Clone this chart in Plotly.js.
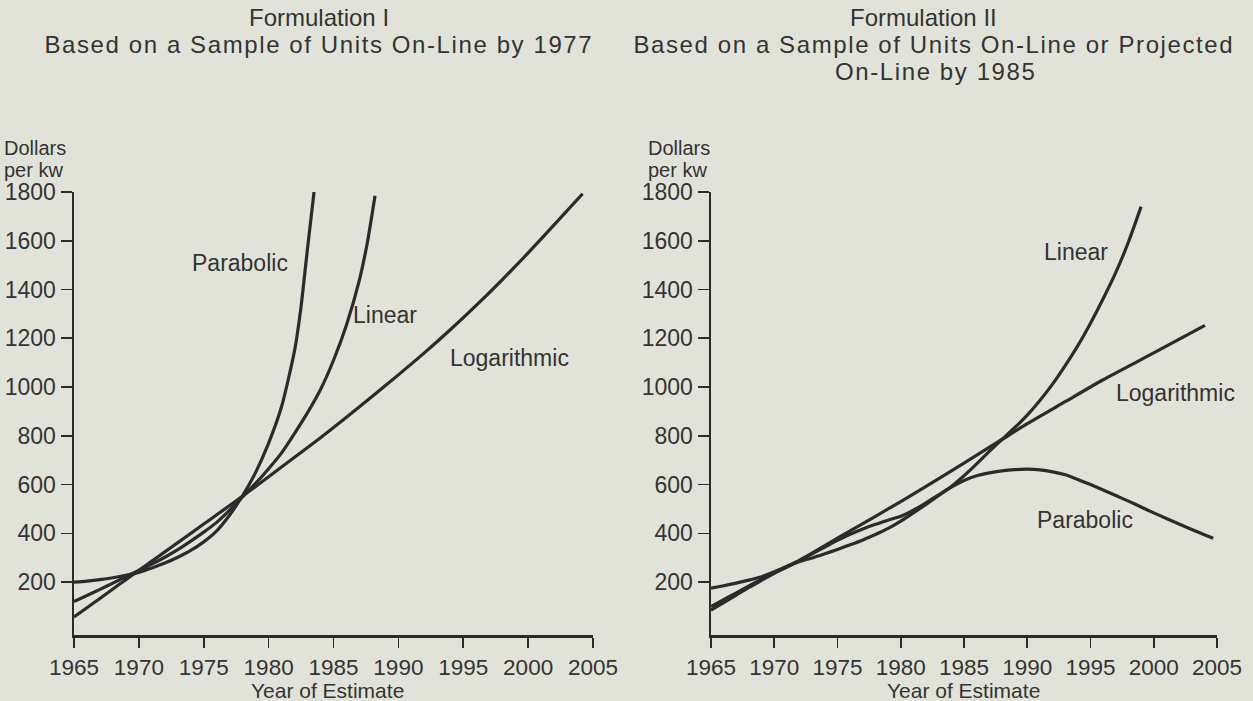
<!DOCTYPE html>
<html>
<head>
<meta charset="utf-8">
<script src="https://cdn.plot.ly/plotly-3.0.1.min.js"></script>
<style>html,body{margin:0;padding:0;background:#e2e3d8;}</style>
</head>
<body>
<div id="chart" style="width:1253px;height:701px;"></div>
<script>
// ---------- Data: Formulation I ----------
const parabolicIYears = [1965,1966,1967,1968,1969,1970,1971,1972,1973,1974,1975,1976,1977,1978,1979,1980,1981,1982,1982.5,1983,1983.5];
const parabolicIValues = [200,204,210,218,228,240,258,278,302,330,365,410,475,555,650,770,920,1150,1330,1570,1800];

const linearIYears = [1965,1966,1967,1968,1969,1970,1971,1972,1973,1974,1975,1976,1977,1978,1979,1980,1981,1982,1983,1984,1985,1986,1987,1987.6,1988.2];
const linearIValues = [120,145,170,196,222,248,274,302,333,368,405,445,495,550,605,665,730,810,895,990,1110,1255,1440,1590,1785];

const logIYears = [1965,1966,1967,1968,1969,1970,1971,1972,1973,1974,1975,1976,1977,1978,1979,1980,1982,1984,1986,1988,1990,1992,1994,1996,1998,2000,2002,2004.2];
const logIValues = [57,95,133,172,210,248,286,324,362,400,438,476,514,553,592,632,712,792,876,962,1050,1140,1235,1335,1440,1550,1665,1793];

// ---------- Data: Formulation II ----------
const linearIIYears = [1965,1966,1967,1968,1969,1970,1971,1972,1973,1974,1975,1976,1977,1978,1979,1980,1981,1982,1983,1984,1985,1986,1987,1988,1989,1990,1991,1992,1993,1994,1995,1996,1997,1998,1999];
const linearIIValues = [100,128,156,184,212,238,262,284,299,316,334,353,373,395,420,450,484,519,555,592,636,685,736,785,833,885,945,1012,1088,1170,1262,1362,1470,1595,1740];

const logIIYears = [1965,1966,1967,1968,1969,1970,1971,1972,1974,1976,1978,1980,1982,1985,1988,1990,1993,1996,2000,2004.05];
const logIIValues = [175,185,196,208,222,242,265,290,350,410,470,530,593,688,785,850,940,1030,1140,1253];

const parabolicIIYears = [1965,1966,1967,1968,1969,1970,1971,1972,1973,1974,1975,1976,1977,1978,1979,1980,1981,1982,1983,1984,1985,1986,1987,1988,1989,1990,1991,1992,1993,1994,1995,1996,1997,1998,1999,2000,2001,2002,2003,2004,2004.7];
const parabolicIIValues = [85,116,147,178,207,236,262,288,316,344,371,396,418,437,454,470,495,525,558,590,617,636,648,656,661,663,660,652,640,621,600,578,555,532,508,484,461,438,416,394,380];

// ---------- Ticks and labels ----------
const xTickVals = [1965,1970,1975,1980,1985,1990,1995,2000,2005];
const yTickVals = [200,400,600,800,1000,1200,1400,1600,1800];

const titleIRows = ['Formulation I', 'Based on a Sample of Units On-Line by 1977'];
const titleIIRows = ['Formulation II', 'Based on a Sample of Units On-Line or Projected', 'On-Line by 1985'];
const yLabelTop = 'Dollars';
const yLabelBottom = 'per kw';
const xLabel = 'Year of Estimate';
const curveLabelsI = [
  {text:'Parabolic', x:1977.8, y:1509},
  {text:'Linear', x:1989.0, y:1295},
  {text:'Logarithmic', x:1998.6, y:1119}
];
const curveLabelsII = [
  {text:'Linear', x:1993.85, y:1554},
  {text:'Logarithmic', x:2001.7, y:975},
  {text:'Parabolic', x:1994.6, y:454}
];

// ---------- Build ----------
const ink = '#2b2b2b';
const txt = '#333333';
const W = 1253, H = 701;
function line(x, y, xa, ya) {
  return {x:x, y:y, xaxis:xa, yaxis:ya, type:'scatter', mode:'lines',
          line:{color:ink, width:3.2, shape:'spline', smoothing:0.6},
          hoverinfo:'skip'};
}
const traces = [
  line(parabolicIYears, parabolicIValues, 'x', 'y'),
  line(linearIYears, linearIValues, 'x', 'y'),
  line(logIYears, logIValues, 'x', 'y'),
  line(linearIIYears, linearIIValues, 'x2', 'y2'),
  line(logIIYears, logIIValues, 'x2', 'y2'),
  line(parabolicIIYears, parabolicIIValues, 'x2', 'y2')
];

const yDomain = [(H - 635) / H, (H - 192) / H];
function xAxis(domain, anchor) {
  return {domain:domain, anchor:anchor, range:[1965,2005], tickvals:xTickVals,
          showline:true, linewidth:2.5, linecolor:ink, ticks:'outside', ticklen:10,
          tickwidth:1.6, tickcolor:ink, showgrid:false, zeroline:false, fixedrange:true,
          tickfont:{size:22.5, color:txt}};
}
function yAxis(anchor) {
  return {domain:yDomain, anchor:anchor, range:[-17,1800], tickvals:yTickVals,
          showline:true, linewidth:2.5, linecolor:ink, ticks:'outside', ticklen:11,
          tickwidth:1.6, tickcolor:ink, showgrid:false, zeroline:false, fixedrange:true,
          tickfont:{size:23, color:txt}};
}

const annotations = [];
function paperText(text, xpx, ypx, size, xanchor) {
  annotations.push({text:text, xref:'paper', yref:'paper', x:xpx / W, y:1 - ypx / H,
    xanchor:xanchor || 'center', yanchor:'middle', showarrow:false, align:'center',
    font:{size:size, color:txt}});
}
paperText(titleIRows[0], 319, 18, 24);
paperText(titleIRows[1], 319, 45, 24);
paperText(titleIIRows[0], 923, 18, 24);
paperText(titleIIRows[1], 934, 45, 24);
paperText(titleIIRows[2], 935, 72, 24);
paperText(yLabelTop, 2, 148, 20, 'left');
paperText(yLabelBottom, 2, 170, 20, 'left');
paperText(yLabelTop, 646, 148, 20, 'left');
paperText(yLabelBottom, 646, 170, 20, 'left');
paperText(xLabel, 327, 690, 21);
paperText(xLabel, 964, 690, 21);
curveLabelsI.forEach(l => annotations.push({text:l.text, xref:'x', yref:'y', x:l.x, y:l.y,
  showarrow:false, font:{size:23, color:txt}}));
curveLabelsII.forEach(l => annotations.push({text:l.text, xref:'x2', yref:'y2', x:l.x, y:l.y,
  showarrow:false, font:{size:23, color:txt}}));

const layout = {
  width:W, height:H, margin:{l:0, r:0, t:0, b:0},
  paper_bgcolor:'#e2e3d8', plot_bgcolor:'#e2e3d8', showlegend:false,
  font:{family:'"Liberation Sans", Arial, Helvetica, sans-serif', color:txt, size:23},
  xaxis:xAxis([74 / W, 593 / W], 'y'),
  yaxis:yAxis('x'),
  xaxis2:xAxis([711 / W, 1217 / W], 'y2'),
  yaxis2:yAxis('x2'),
  annotations:annotations
};

const spacedRows = [titleIRows[1], titleIIRows[1], titleIIRows[2]];
Plotly.newPlot('chart', traces, layout, {displayModeBar:false, staticPlot:true}).then(() => {
  document.querySelectorAll('text.annotation-text').forEach(t => {
    if (spacedRows.indexOf(t.textContent) >= 0) t.style.letterSpacing = '1.6px';
  });
});
</script>
</body>
</html>
